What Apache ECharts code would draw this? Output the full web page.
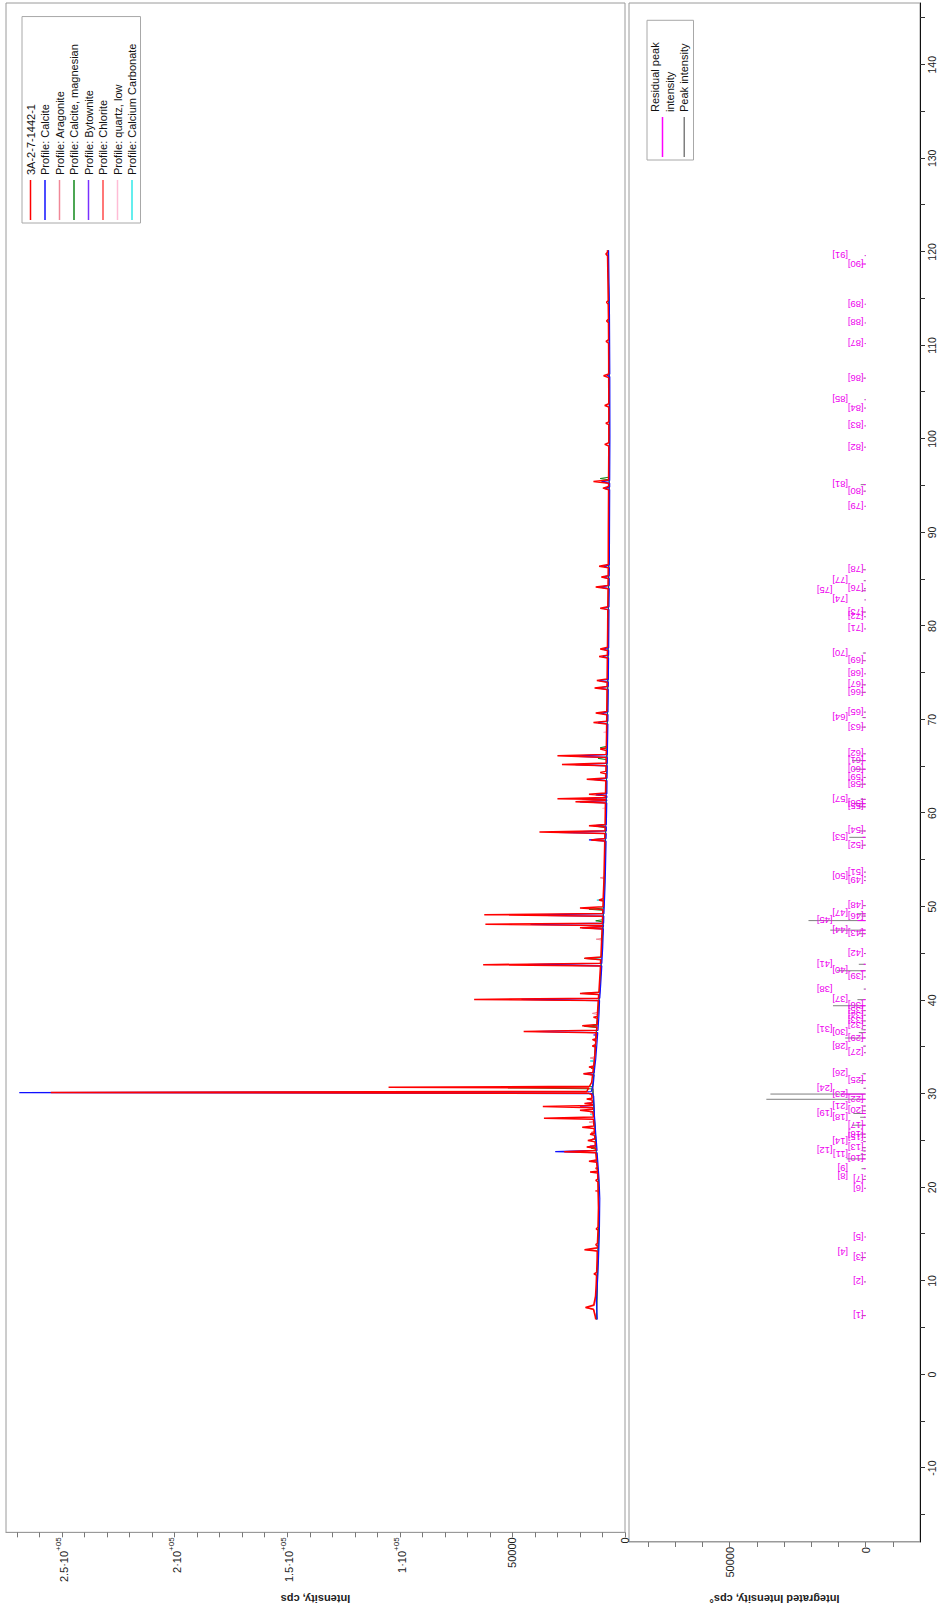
<!DOCTYPE html>
<html><head><meta charset="utf-8">
<script src="https://cdn.jsdelivr.net/npm/echarts@6.0.0/dist/echarts.min.js"></script>
<style>
html,body{margin:0;padding:0;background:#fff;overflow:hidden;width:942px;height:1612px;}
#chart{position:absolute;left:0;top:0;width:1612px;height:942px;transform-origin:0 0;transform:translate(0px,1612px) rotate(-90deg);background:#fff;}
</style></head><body><div id="chart"></div>
<script>
// ---------- DATA: [2theta, intensity cps] ----------
const measured = [[5.0,13000],[5.4,13300],[5.8,13700],[6.1,14000],[6.3,17500],[6.55,13900],[7.5,13100],[8.8,12800],[9.75,12650],[9.9,13800],[10.05,12600],[11.5,12400],[12.35,12350],[12.5,18000],[12.7,12300],[12.9,12300],[13.05,13000],[13.2,12250],[14.6,12000],[14.75,12800],[14.9,12000],[17.0,11800],[19.8,12050],[19.95,13000],[20.1,12100],[20.75,12150],[20.85,15500],[20.95,12200],[21.15,12300],[21.25,13000],[21.35,12350],[21.9,12600],[22.02,16000],[22.15,12700],[22.93,13000],[23.05,27000],[23.18,13000],[23.42,13100],[23.55,17000],[23.68,13200],[24.1,13300],[24.25,16500],[24.4,13400],[24.8,13500],[24.92,15500],[25.05,13600],[25.55,13700],[25.68,19000],[25.8,13800],[26.52,14000],[26.65,36000],[26.78,14000],[27.35,14300],[27.5,20000],[27.62,14300],[27.78,14400],[27.9,36500],[28.02,14400],[28.12,14500],[28.22,18000],[28.32,14500],[28.6,14600],[28.7,17000],[28.8,14650],[29.2,14800],[29.32,16000],[29.42,255000],[29.52,17000],[29.75,16500],[29.9,16000],[29.98,105000],[30.08,15800],[30.5,14800],[31.3,14400],[31.42,18500],[31.55,14300],[32.05,14000],[32.15,16000],[32.25,13900],[33.5,13400],[34.3,13100],[34.42,14500],[34.55,13100],[35.0,12900],[35.1,14500],[35.2,12900],[35.85,12700],[35.97,45000],[36.1,12600],[36.45,12500],[36.6,19000],[36.72,12400],[37.4,12300],[37.5,14000],[37.6,12300],[39.3,11900],[39.42,67000],[39.55,11800],[39.95,11700],[40.07,20000],[40.2,11600],[43.02,10900],[43.16,63000],[43.3,10900],[43.7,10800],[43.85,18000],[43.98,10700],[47.0,10200],[47.12,20000],[47.25,10150],[47.38,10100],[47.5,62000],[47.62,10050],[48.38,9950],[48.52,62500],[48.66,9900],[49.1,9850],[49.25,20000],[49.38,9800],[50.0,9700],[50.12,11500],[50.25,9700],[52.0,9400],[56.45,9000],[56.58,15000],[56.72,9000],[57.27,8950],[57.42,38000],[57.57,8900],[57.98,8850],[58.1,16000],[58.25,8850],[60.55,8700],[60.68,22000],[60.82,8700],[60.92,8700],[61.02,30000],[61.15,8650],[61.35,8650],[61.48,16000],[61.62,8650],[62.95,8550],[63.1,17000],[63.25,8550],[63.7,8500],[63.82,11000],[63.95,8500],[64.55,8450],[64.7,28000],[64.85,8400],[65.45,8400],[65.62,30000],[65.78,8350],[66.2,8300],[66.35,11000],[66.5,8300],[68.0,8200],[69.05,8150],[69.2,14000],[69.35,8150],[70.05,8100],[70.22,13000],[70.38,8100],[72.75,8000],[72.92,13500],[73.08,8000],[73.55,7950],[73.72,12500],[73.9,7950],[76.15,7850],[76.3,11500],[76.45,7850],[76.95,7800],[77.12,11000],[77.3,7800],[79.5,7700],[81.35,7650],[81.5,11000],[81.65,7650],[83.6,7550],[83.78,13000],[83.95,7550],[84.7,7500],[84.85,10500],[85.0,7500],[85.85,7450],[86.02,11500],[86.2,7450],[90.0,7400],[94.25,7300],[94.42,9800],[94.6,7300],[94.95,7300],[95.12,14000],[95.3,7300],[98.95,7200],[99.12,9000],[99.3,7200],[101.25,7200],[101.4,8500],[101.55,7200],[103.15,7200],[103.3,9000],[103.5,7200],[106.3,7250],[106.5,9500],[106.7,7250],[108.0,7250],[110.0,7300],[110.2,8400],[110.4,7300],[112.2,7350],[112.4,8200],[112.6,7350],[114.2,7450],[114.4,8200],[114.6,7450],[117.0,7600],[119.4,7750],[119.6,8500],[119.8,7780],[120.0,7800]];

const profileCalcite = [[5.0,12300],[7.0,12700],[10.0,12000],[14.0,11400],[18.0,11200],[20.0,11500],[22.0,12100],[22.93,12400],[23.05,31000],[23.18,12400],[25.0,13000],[27.0,13600],[29.0,13900],[29.3,14500],[29.4,269000],[29.5,15000],[30.5,14000],[31.3,13700],[31.42,18000],[31.55,13700],[33.0,13000],[35.85,12100],[35.97,40000],[36.1,12000],[38.0,11500],[39.3,11300],[39.42,46000],[39.55,11200],[41.0,10800],[43.02,10300],[43.16,44000],[43.3,10300],[45.0,9900],[47.0,9600],[47.12,19000],[47.25,9600],[47.38,9550],[47.5,42000],[47.62,9500],[48.38,9400],[48.5,44000],[48.64,9350],[52.0,8800],[56.45,8400],[56.58,16000],[56.72,8400],[57.27,8350],[57.4,30000],[57.55,8300],[57.98,8300],[58.1,14000],[58.25,8300],[60.55,8100],[60.68,20000],[60.8,8100],[60.88,8100],[61.0,19000],[61.13,8100],[61.3,8050],[61.42,13000],[61.55,8050],[62.95,8000],[63.08,14000],[63.22,8000],[64.55,7900],[64.68,22000],[64.82,7900],[65.45,7850],[65.6,24000],[65.75,7850],[69.05,7600],[69.2,12000],[69.35,7600],[70.05,7550],[70.2,11000],[70.35,7550],[72.75,7450],[72.92,12000],[73.08,7450],[73.55,7400],[73.7,11500],[73.85,7400],[76.15,7300],[76.3,10000],[76.45,7300],[76.95,7250],[77.1,10000],[77.25,7250],[81.35,7100],[81.5,10000],[81.65,7100],[83.6,7000],[83.77,11000],[83.95,7000],[84.7,7000],[84.85,10000],[85.0,7000],[85.85,6950],[86.0,9500],[86.15,6950],[94.25,6800],[94.4,9000],[94.55,6800],[94.95,6800],[95.1,10500],[95.25,6800],[100.0,6700],[106.4,6750],[106.55,8000],[106.7,6750],[113.0,6900],[120.0,7300]];

const profileAragonite = [[5,12700],[10,12300],[15,11700],[20,11800],[25,13200],[26.1,13500],[26.22,16000],[26.35,13500],[27.1,13700],[27.22,15500],[27.35,13700],[30,14300],[33.0,13400],[33.12,15500],[33.25,13400],[35,13000],[37.8,12000],[37.92,14500],[38.05,12000],[40,11300],[45.8,10000],[45.9,12800],[46.0,10000],[50,9400],[52.4,9100],[52.5,11000],[52.6,9100],[55,8800],[60,8400],[70,7800],[80,7400],[90,7100],[100,6900],[110,7000],[120,7500]];

const profileCalciteMg = [[5,12600],[10,12200],[15,11700],[20,11800],[23.3,12900],[23.42,15000],[23.55,12900],[25,13200],[27,13700],[29.8,14300],[29.92,52000],[30.04,14300],[31.9,13700],[32.02,15000],[32.15,13600],[35,13000],[36.4,12600],[36.52,18000],[36.65,12500],[39.95,11400],[40.07,19000],[40.2,11350],[43.7,10500],[43.83,18000],[43.96,10500],[45,10200],[47.75,9700],[47.88,13000],[48.0,9650],[49.0,9550],[49.12,16000],[49.25,9500],[50,9400],[55,8800],[57.9,8600],[58.05,13000],[58.2,8550],[60,8400],[61.3,8350],[61.45,12000],[61.6,8300],[65.2,8050],[65.35,12000],[65.5,8050],[66.35,8000],[66.5,11000],[66.65,8000],[70,7800],[80,7400],[90,7100],[95.3,7000],[95.45,11000],[95.6,7000],[100,6900],[110,7000],[120,7500]];

const profileBytownite = [[5,12700],[10,12300],[15,11700],[20,11800],[21.95,12400],[22.05,15000],[22.15,12400],[23.55,12800],[23.65,15500],[23.75,12800],[24.3,12900],[24.4,14500],[24.5,12900],[25,13200],[27.8,13900],[27.92,20000],[28.04,13900],[28.15,14000],[28.25,17000],[28.35,14000],[30,14300],[35,13000],[35.5,12800],[35.6,14000],[35.7,12800],[40,11300],[45,10200],[50,9400],[55,8800],[60,8400],[70,7800],[80,7400],[90,7100],[100,6900],[110,7000],[120,7500]];

const profileChlorite = [[5,12700],[6.05,13800],[6.25,17500],[6.5,13600],[8,12600],[10,12300],[12.35,12000],[12.5,17000],[12.65,12000],[15,11700],[18.7,11700],[18.82,13200],[18.95,11700],[20,11800],[25.0,13200],[25.12,15000],[25.25,13250],[30,14300],[34.9,13100],[35.0,14000],[35.1,13000],[40,11300],[45,10200],[50,9400],[55,8800],[60,8400],[70,7800],[80,7400],[90,7100],[100,6900],[110,7000],[120,7500]];

const profileQuartz = [[5,12700],[10,12300],[15,11700],[20,11800],[20.75,12000],[20.85,15000],[20.95,12000],[25,13200],[26.55,13700],[26.65,30000],[26.75,13700],[30,14300],[35,13000],[36.5,12700],[36.55,13800],[36.65,12700],[39.42,11400],[39.48,12800],[39.55,11400],[45,10200],[50.08,9400],[50.15,12000],[50.25,9400],[55,8800],[59.9,8450],[59.97,10000],[60.05,8450],[68.1,7900],[68.15,9500],[68.25,7900],[80,7400],[90,7100],[100,6900],[110,7000],[120,7500]];

const profileCaCO3 = [[5,12700],[10,12300],[15,11700],[20,11800],[24.8,13100],[24.92,15000],[25.05,13150],[26.95,13600],[27.05,15500],[27.15,13600],[30,14300],[32.7,13700],[32.8,15500],[32.9,13700],[35,13000],[40,11300],[43.75,10500],[43.86,13500],[43.97,10500],[45,10200],[50.0,9400],[50.1,12500],[50.2,9400],[55,8800],[60,8400],[70,7800],[80,7400],[90,7100],[100,6900],[110,7000],[120,7500]];

// peak list (lower panel)
const peakTheta = [6.3,9.9,12.5,13.0,14.7,19.9,20.85,21.2,22.0,23.05,23.5,23.9,24.25,24.9,25.35,25.7,26.65,27.5,27.9,28.2,28.7,29.42,29.98,30.6,31.42,32.15,34.4,35.1,35.97,36.55,36.85,37.3,37.8,38.4,38.9,39.42,40.07,41.2,42.5,43.16,43.85,45.0,47.12,47.5,48.52,49.0,49.25,50.12,52.8,53.2,53.7,56.58,57.42,58.1,60.68,61.02,61.48,63.1,63.82,64.7,65.62,66.35,69.2,70.22,70.8,72.92,73.72,74.9,76.3,77.12,79.7,81.0,81.5,82.8,83.78,84.0,84.85,86.02,92.8,94.42,95.12,99.12,101.4,103.3,104.2,106.5,110.2,112.4,114.4,118.7,119.6];
const peakIntensity = [1500,600,1800,500,400,500,1200,500,1500,7000,1800,1200,1300,900,800,2000,5000,2000,4500,1500,1200,36500,35000,800,2500,1200,600,900,7500,2500,1500,1000,1000,800,900,12000,3000,700,700,10500,2500,600,2500,13000,21000,1500,3000,1000,600,500,600,1500,6000,2000,2500,4000,1800,2000,800,4500,5000,900,1500,1200,700,1500,1400,500,1200,1000,500,500,1000,400,1300,600,700,1000,400,800,1800,500,400,500,400,800,300,300,300,400,300];
const residualIntensity = [600,300,700,300,300,300,500,300,600,1500,600,500,500,400,400,700,1200,600,1000,500,500,2500,9000,300,800,500,300,400,1500,700,500,400,400,300,400,2000,900,300,300,1800,700,300,700,2200,3000,500,900,400,300,300,300,500,1200,600,700,1000,600,600,300,1000,1100,400,500,400,300,500,500,300,400,400,300,300,400,300,500,300,300,400,300,400,700,300,300,300,300,400,300,300,300,1500,300];
const peakLabelRow = [0,0,0,1,0,0,0,1,1,0,1,2,0,1,0,0,0,1,2,0,1,0,1,2,0,1,0,1,0,1,2,0,0,0,0,0,1,2,0,1,2,0,0,1,2,0,1,0,0,1,0,0,1,0,0,0,1,0,0,0,0,0,0,1,0,0,0,0,0,1,0,0,0,1,2,0,1,0,0,0,1,0,0,0,1,0,0,0,0,0,1];

// tick label text for the intensity axes
const intensityTickText = {0:'0', 50000:'50000', 100000:'{m|1·10}{e|+05}', 150000:'{m|1.5·10}{e|+05}', 200000:'{m|2·10}{e|+05}', 250000:'{m|2.5·10}{e|+05}'};
const integratedTickText = {0:'0', 50000:'50000'};

// ---------- CHART ----------
const FONT = 'Liberation Sans, Arial, sans-serif';
const chart = echarts.init(document.getElementById('chart'), null, {renderer:'svg', width:1612, height:942});

const profiles = [
  {name:'Profile: quartz, low', data:profileQuartz, color:'#ffbcd6', w:1},
  {name:'Profile: Calcium Carbonate', data:profileCaCO3, color:'#30e8e8', w:1},
  {name:'Profile: Aragonite', data:profileAragonite, color:'#f08898', w:1},
  {name:'Profile: Chlorite', data:profileChlorite, color:'#ff4a4a', w:1},
  {name:'Profile: Bytownite', data:profileBytownite, color:'#7a30ff', w:1},
  {name:'Profile: Calcite, magnesian', data:profileCalciteMg, color:'#11881a', w:1},
  {name:'Profile: Calcite', data:profileCalcite, color:'#1010ff', w:1.2},
  {name:'3A-2-7-1442-1', data:measured, color:'#ff0000', w:1.5}
];
const legendUpper = ['3A-2-7-1442-1','Profile: Calcite','Profile: Aragonite','Profile: Calcite, magnesian','Profile: Bytownite','Profile: Chlorite','Profile: quartz, low','Profile: Calcium Carbonate'];

const lineSeries = profiles.map(p => ({
  name:p.name, type:'line', xAxisIndex:0, yAxisIndex:0, data:p.data, color:p.color,
  showSymbol:false, symbol:'none', animation:false, silent:true,
  lineStyle:{color:p.color, width:p.w}
}));

function stickSeries(name, values, color){
  return {
    name, type:'custom', xAxisIndex:1, yAxisIndex:1, color, animation:false, silent:true,
    data: peakTheta.map((t,i)=>[t, values[i]]),
    encode:{x:0, y:1},
    renderItem:(params, api)=>{
      const p0 = api.coord([api.value(0), 0]);
      const p1 = api.coord([api.value(0), api.value(1)]);
      return {type:'line', shape:{x1:p0[0], y1:p0[1], x2:p1[0], y2:p1[1]}, style:{stroke:color, lineWidth:1}};
    }
  };
}

const labelSeries = {
  name:'peak labels', type:'custom', xAxisIndex:1, yAxisIndex:1, animation:false, silent:true,
  data: peakTheta.map((t,i)=>[t, 0, i+1, peakLabelRow[i]]),
  encode:{x:0, y:1},
  renderItem:(params, api)=>{
    const p = api.coord([api.value(0), 0]);
    const row = api.value(3);
    return {type:'text', x:p[0], y:p[1]-2-row*15.5, rotation:Math.PI/2,
      style:{text:'['+api.value(2)+']', fill:'#ee00ee', fontSize:9.5, fontFamily:FONT,
             align:'left', verticalAlign:'middle', textAlign:'left', textVerticalAlign:'middle'}};
  }
};

const richTick = {m:{fontSize:11, fontFamily:FONT, color:'#222', lineHeight:15, verticalAlign:'bottom'},
                  e:{fontSize:8, fontFamily:FONT, color:'#222', lineHeight:10, verticalAlign:'top'}};

chart.setOption({
  animation:false,
  backgroundColor:'#ffffff',
  grid:[
    {left:69, top:6, width:1540, height:619, show:true, borderColor:'#9a9a9a', borderWidth:1, containLabel:false},
    {left:69, top:629, width:1540, height:291, show:true, borderColor:'#9a9a9a', borderWidth:1, containLabel:false}
  ],
  xAxis:[
    {gridIndex:0, type:'value', min:-17.9, max:146.6, show:false, axisLine:{onZero:false}, splitLine:{show:false}},
    {gridIndex:1, type:'value', min:-17.9, max:146.6, splitNumber:33, position:'bottom',
     axisLine:{show:true, onZero:false, lineStyle:{color:'#111', width:1}},
     axisTick:{show:true, length:5, lineStyle:{color:'#333'}},
     splitLine:{show:false},
     axisLabel:{show:true, margin:6, fontSize:10.5, fontFamily:FONT, color:'#222',
       showMinLabel:false, showMaxLabel:false,
       formatter:v => (Math.abs(v/10 - Math.round(v/10)) < 1e-6 ? String(Math.round(v)) : '')}}
  ],
  yAxis:[
    {gridIndex:0, type:'value', min:0, max:274900, interval:10000, position:'left',
     axisLine:{show:true, onZero:false, lineStyle:{color:'#9a9a9a'}},
     axisTick:{show:true, length:5, lineStyle:{color:'#777'}},
     splitLine:{show:false},
     axisLabel:{show:true, margin:5, fontSize:11, fontFamily:FONT, color:'#222', rich:richTick,
       showMaxLabel:false,
       formatter:v => (intensityTickText[v] !== undefined ? intensityTickText[v] : '')},
     name:'Intensity, cps', nameLocation:'middle', nameRotate:90, nameGap:51,
     nameTextStyle:{fontSize:11, fontWeight:'bold', fontFamily:FONT, color:'#222'}},
    {gridIndex:1, type:'value', min:-20000, max:87000, interval:10000, position:'left',
     axisLine:{show:true, onZero:false, lineStyle:{color:'#9a9a9a'}},
     axisTick:{show:true, length:5, lineStyle:{color:'#777'}},
     splitLine:{show:false},
     axisLabel:{show:true, margin:5, fontSize:11, fontFamily:FONT, color:'#222',
       showMaxLabel:false, showMinLabel:false,
       formatter:v => (integratedTickText[v] !== undefined ? integratedTickText[v] : '')},
     name:'Integrated Intensity, cps°', nameLocation:'middle', nameRotate:90, nameGap:51,
     nameTextStyle:{fontSize:11, fontWeight:'bold', fontFamily:FONT, color:'#222'}}
  ],
  legend:[
    {data:legendUpper, orient:'vertical', left:1389, top:22, icon:'rect', itemWidth:40, itemHeight:1.5,
     itemGap:1.5, padding:[2,27,2,3], borderColor:'#a8a8a8', borderWidth:1, backgroundColor:'#fff',
     selectedMode:false, textStyle:{fontSize:11, fontFamily:FONT, color:'#111', lineHeight:13}},
    {data:['Residual peak intensity','Peak intensity'], orient:'vertical', left:1452, top:647, icon:'rect',
     itemWidth:40, itemHeight:1.5, itemGap:0, padding:[1,22,2,3], borderColor:'#a8a8a8', borderWidth:1,
     backgroundColor:'#fff', selectedMode:false,
     formatter:n => (n === 'Residual peak intensity' ? 'Residual peak\nintensity' : n),
     textStyle:{fontSize:11, fontFamily:FONT, color:'#111', lineHeight:14.5}}
  ],
  series:[
    ...lineSeries,
    stickSeries('Peak intensity', peakIntensity, '#7f7f7f'),
    stickSeries('Residual peak intensity', residualIntensity, '#ff00ff'),
    labelSeries
  ]
});
</script></body></html>
